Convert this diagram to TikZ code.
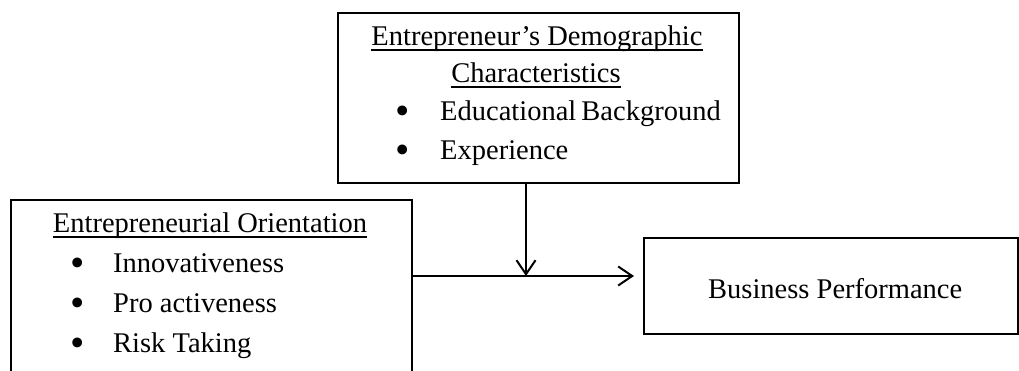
\documentclass[tikz,border=0pt]{standalone}
\usepackage{fontspec}
\setmainfont{Liberation Serif}
\usetikzlibrary{arrows.meta}
\newcommand{\bigbullet}{\raisebox{-4.5pt}{\fontsize{41}{41}\selectfont\textbullet}}
\begin{document}
\begin{tikzpicture}[x=1pt,y=-1pt,
  box/.style={draw, line width=2pt, anchor=north west, inner sep=0pt},
  txt/.style={inner sep=0pt, font=\fontsize{28.5}{34}\selectfont},
  item/.style={txt, anchor=base west},
  dot/.style={txt, anchor=base},
  title/.style={txt, anchor=base},
  uline/.style={line width=1.3pt},
  link/.style={line width=2pt},
  tip/.style={-{Straight Barb[length=14pt,width=19pt,line width=2pt]}}
]
\useasboundingbox (0,0) rectangle (1019,370);
\clip (0,0) rectangle (1019,370);

% boxes
\node[box, minimum width=401pt, minimum height=170pt] (demo) at (337,12) {};
\node[box, minimum width=401pt, minimum height=200pt] (eo) at (10,199) {};
\node[box, minimum width=374pt, minimum height=96pt] (bp) at (643,237) {};

% demographic characteristics
\node[title] (d1) at (537,45) {Entrepreneur’s Demographic};
\node[title] (d2) at (536,82) {Characteristics};
\draw[uline] ([yshift=-5pt]d1.base west) -- ([yshift=-5pt]d1.base east);
\draw[uline] ([yshift=-5pt]d2.base west) -- ([yshift=-5pt]d2.base east);
\node[dot] (db1) at (403,120) {\bigbullet};
\node[item] (di1) at (440,120) {Educational\hspace{-2pt} Background};
\node[dot] (db2) at (403,159) {\bigbullet};
\node[item] (di2) at (440,159) {Experience};

% entrepreneurial orientation
\node[title] (e1) at (210,232) {Entrepreneurial Orientation};
\draw[uline] ([yshift=-5pt]e1.base west) -- ([yshift=-5pt]e1.base east);
\node[dot] (eb1) at (78,272) {\bigbullet};
\node[item] (ei1) at (113,272) {Innovativeness};
\node[dot] (eb2) at (78,312) {\bigbullet};
\node[item] (ei2) at (113,312) {Pro activeness};
\node[dot] (eb3) at (78,352) {\bigbullet};
\node[item] (ei3) at (113,352) {Risk Taking};

% business performance
\node[item] (b1) at (708,298) {Business Performance};

% connectors
\coordinate (join) at (526,276);
\draw[link, tip] (demo.south -| join) -- (join);
\draw[link, tip, shorten >=9pt] (eo.east |- join) -- (bp.west |- join);
\end{tikzpicture}
\end{document}
